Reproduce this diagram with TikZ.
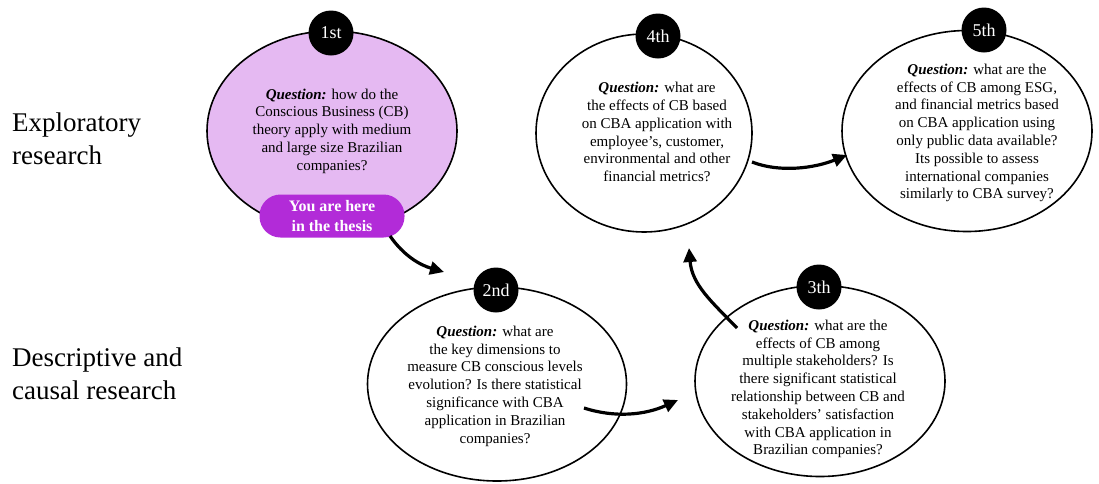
\documentclass[tikz,border=0pt]{standalone}
\usepackage{fontspec}
\setmainfont{Liberation Serif}
\usetikzlibrary{shapes.geometric,arrows.meta}
\definecolor{lilac}{RGB}{229,185,242}
\definecolor{pillviolet}{RGB}{178,43,216}
\begin{document}
\begin{tikzpicture}[x=1pt,y=-1pt,
  stage/.style={ellipse, draw=black, line width=1.6pt, fill=white, inner sep=0pt},
  badge/.style={circle, fill=black, minimum size=45pt, inner sep=0pt, text=white,
    font=\fontsize{18}{20}\selectfont},
  question/.style={align=center, inner sep=0pt, font=\fontsize{15}{17.8}\selectfont},
  side/.style={anchor=west, align=left, inner sep=0pt, font=\fontsize{27}{33}\selectfont},
  herepill/.style={rectangle, rounded corners=21pt, fill=pillviolet, text=white,
    minimum width=145pt, minimum height=43pt, inner sep=0pt, align=center,
    font=\bfseries\fontsize{16}{19.5}\selectfont},
  flow/.style={line width=3.2pt, -{Triangle[length=14pt,width=13pt]}}]
\useasboundingbox (0,0) rectangle (1099,483);

% row labels
\node[side] (lexp) at (12,139) {Exploratory\\research};
\node[side] (ldesc) at (12,374) {Descriptive and\\causal research};

% stage ellipses
\node[stage, fill=lilac, minimum width=250pt, minimum height=200pt] (e1) at (332,131) {};
\node[stage, minimum width=216pt, minimum height=198pt] (e4) at (644,133) {};
\node[stage, minimum width=250pt, minimum height=201pt] (e5) at (967,131) {};
\node[stage, minimum width=259pt, minimum height=194pt] (e2) at (497,384) {};
\node[stage, minimum width=250pt, minimum height=191pt] (e3) at (820,381) {};

% "you are here" marker
\node[herepill] (pill) at (332,216) {You are here\\in the thesis};

% order badges
\node[badge] (b1) at (331,33) {1st};
\node[badge] (b4) at (658,36) {4th};
\node[badge] (b5) at (984,30) {5th};
\node[badge] (b2) at (496,290) {2nd};
\node[badge] (b3) at (819,287) {3th};

% research questions
\node[question] (q1) at (332,131) {\textbf{\textit{Question:}} how do the\\Conscious Business (CB)\\theory apply with medium\\and large size Brazilian\\companies?};
\node[question] (q4) at (657,132) {\textbf{\textit{Question:}} what are\\the effects of CB based\\on CBA application with\\employee's, customer,\\environmental and other\\financial metrics?};
\node[question] (q5) at (977,133) {\textbf{\textit{Question:}} what are the\\effects of CB among ESG,\\and financial metrics based\\on CBA application using\\only public data available?\\Its possible to assess\\international companies\\similarly to CBA survey?};
\node[question] (q2) at (495,386) {\textbf{\textit{Question:}} what are\\the key dimensions to\\measure CB conscious levels\\evolution? Is there statistical\\significance with CBA\\application in Brazilian\\companies?};
\node[question] (q3) at (818,389) {\textbf{\textit{Question:}} what are the\\effects of CB among\\multiple stakeholders? Is\\there significant statistical\\relationship between CB and\\stakeholders{\char"27} satisfaction\\with CBA application in\\Brazilian companies?};

% arrow ends
\coordinate (a1s) at (390,236);
\coordinate (a1e) at (444,272);
\coordinate (a2s) at (584,408);
\coordinate (a2e) at (678,400);
\coordinate (a3s) at (737,328);
\coordinate (a3e) at (689,248);
\coordinate (a4s) at (752,162);
\coordinate (a4e) at (847,155);

% sequence arrows
\draw[flow] (a1s) .. controls (404,256) and (420,265) .. (a1e);
\draw[flow] (a2s) .. controls (615,418) and (645,415) .. (a2e);
\draw[flow] (a3s) .. controls (712,302) and (692,285) .. (a3e);
\draw[flow] (a4s) .. controls (780,173) and (815,168) .. (a4e);
\end{tikzpicture}
\end{document}
